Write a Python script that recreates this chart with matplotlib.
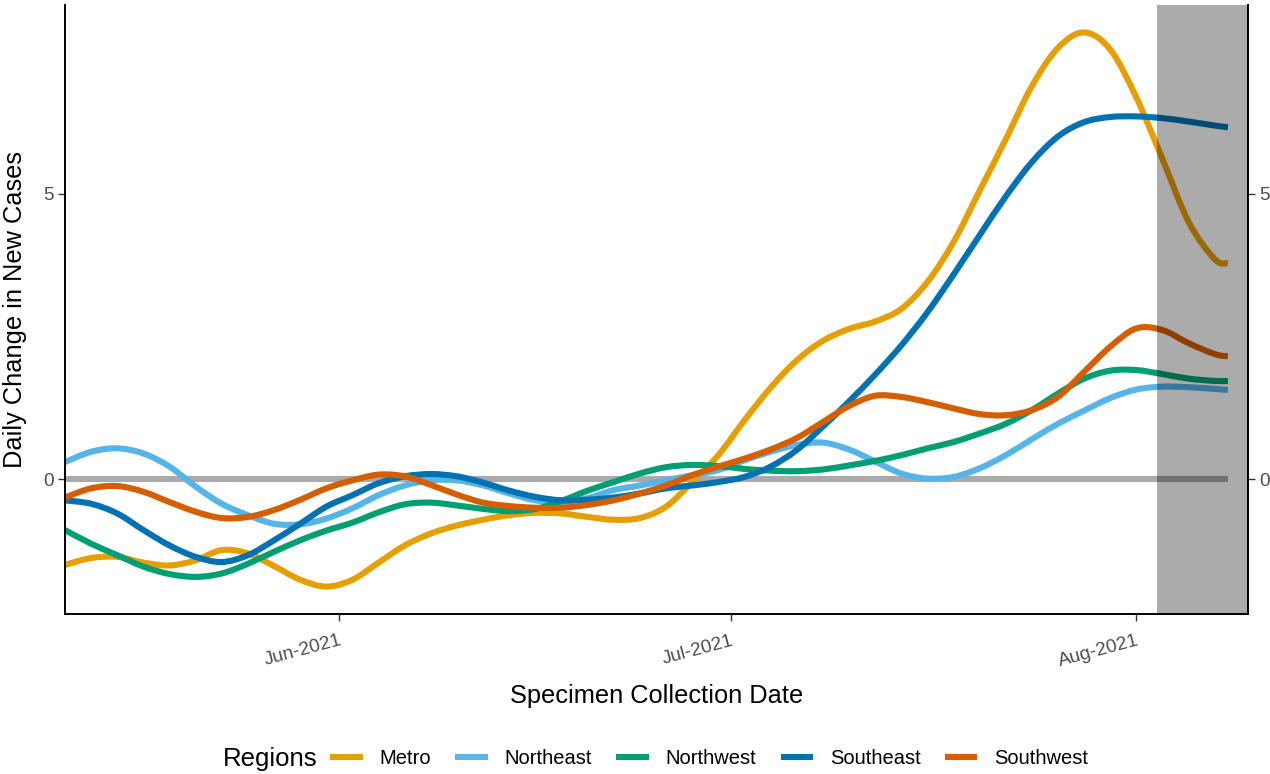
import matplotlib
matplotlib.use("Agg")
import matplotlib.pyplot as plt
import matplotlib.dates as mdates
from matplotlib.lines import Line2D
from matplotlib.path import Path
from matplotlib.patches import PathPatch
import pandas as pd

plt.rcParams["font.family"] = ["Liberation Sans", "DejaVu Sans"]

# sample dates: every 2 days from 11 May, plus the last day (8 Aug)
dates = pd.date_range("2021-05-11", "2021-08-07", freq="2D").append(pd.DatetimeIndex(["2021-08-08"]))

metro = [-1.50, -1.38, -1.36, -1.46, -1.51, -1.42, -1.24, -1.30, -1.52, -1.76,
         -1.88, -1.76, -1.46, -1.16, -0.95, -0.81, -0.71, -0.63, -0.59, -0.60,
         -0.66, -0.71, -0.68, -0.48, -0.05, 0.42, 1.03, 1.60, 2.08, 2.42,
         2.63, 2.76, 2.98, 3.45, 4.15, 5.05, 5.95, 6.88, 7.55, 7.82,
         7.52, 6.68, 5.60, 4.50, 3.85, 3.78]
northeast = [0.30, 0.48, 0.54, 0.45, 0.22, -0.13, -0.43, -0.63, -0.78, -0.79,
             -0.69, -0.51, -0.28, -0.11, -0.02, -0.02, -0.11, -0.25, -0.37, -0.40,
             -0.33, -0.19, -0.11, -0.02, 0.07, 0.16, 0.33, 0.48, 0.60, 0.64,
             0.52, 0.31, 0.10, 0.01, 0.04, 0.19, 0.42, 0.70, 0.97, 1.20,
             1.42, 1.57, 1.62, 1.61, 1.58, 1.56]
northwest = [-0.89, -1.13, -1.33, -1.53, -1.66, -1.71, -1.65, -1.48, -1.27, -1.07,
             -0.90, -0.76, -0.58, -0.44, -0.41, -0.46, -0.52, -0.56, -0.52, -0.38,
             -0.20, -0.05, 0.10, 0.21, 0.25, 0.23, 0.18, 0.15, 0.14, 0.17,
             0.24, 0.32, 0.42, 0.54, 0.65, 0.80, 0.97, 1.21, 1.50, 1.76,
             1.90, 1.91, 1.84, 1.76, 1.72, 1.72]
southeast = [-0.37, -0.43, -0.60, -0.89, -1.16, -1.36, -1.45, -1.33, -1.07, -0.78,
             -0.48, -0.28, -0.07, 0.05, 0.09, 0.05, -0.06, -0.20, -0.31, -0.37,
             -0.36, -0.32, -0.25, -0.16, -0.11, -0.05, 0.04, 0.22, 0.51, 0.92,
             1.36, 1.83, 2.34, 2.92, 3.58, 4.27, 4.95, 5.55, 6.00, 6.25,
             6.34, 6.35, 6.32, 6.26, 6.19, 6.16]
southwest = [-0.32, -0.16, -0.12, -0.22, -0.40, -0.57, -0.68, -0.66, -0.54, -0.36,
             -0.16, -0.02, 0.08, 0.05, -0.10, -0.27, -0.41, -0.47, -0.50, -0.50,
             -0.45, -0.37, -0.25, -0.11, 0.07, 0.22, 0.36, 0.52, 0.72, 1.00,
             1.28, 1.46, 1.44, 1.35, 1.24, 1.14, 1.12, 1.21, 1.44, 1.88,
             2.32, 2.64, 2.61, 2.38, 2.19, 2.15]

regions = ["Metro", "Northeast", "Northwest", "Southeast", "Southwest"]
series = [metro, northeast, northwest, southeast, southwest]
colors = ["#E69F00", "#56B4E9", "#009E73", "#0072B2", "#D55E00"]

x_start = pd.Timestamp("2021-05-11")
x_end = pd.Timestamp("2021-08-09 13:00")
shade_start = pd.Timestamp("2021-08-02 13:00")
tick_dates = [pd.Timestamp("2021-06-01"), pd.Timestamp("2021-07-01"), pd.Timestamp("2021-08-01")]


def smooth_path(xs, ys):
    # Catmull-Rom through the points, drawn as cubic Bezier segments
    pts = list(zip(xs, ys))
    verts = [pts[0]]
    codes = [Path.MOVETO]
    n = len(pts)
    for i in range(n - 1):
        p0 = pts[max(i - 1, 0)]
        p1 = pts[i]
        p2 = pts[i + 1]
        p3 = pts[min(i + 2, n - 1)]
        c1 = (p1[0] + (p2[0] - p0[0]) / 6, p1[1] + (p2[1] - p0[1]) / 6)
        c2 = (p2[0] - (p3[0] - p1[0]) / 6, p2[1] - (p3[1] - p1[1]) / 6)
        verts += [c1, c2, p2]
        codes += [Path.CURVE4] * 3
    return Path(verts, codes)


fig = plt.figure(figsize=(12.7, 7.74), dpi=100)
ax = fig.add_axes([0.0512, 0.2067, 0.9315, 0.7868])

lw = 4.4
xnum = mdates.date2num(dates)
ax.plot(dates, [0] * len(dates), color="#AAAAAA", lw=lw, solid_capstyle="butt", zorder=1)
for name, vals, col in zip(regions, series, colors):
    patch = PathPatch(smooth_path(xnum, vals), fill=False, edgecolor=col, lw=lw,
                      capstyle="butt", joinstyle="round", zorder=2)
    ax.add_patch(patch)

ax.axvspan(shade_start, x_end, color="black", alpha=0.33, lw=0, zorder=5)

ax.set_xlim(x_start, x_end)
ax.set_ylim(-2.36, 8.30)

ax.set_xticks(tick_dates)
ax.xaxis.set_major_formatter(mdates.DateFormatter("%b-%Y"))
for lab in ax.get_xticklabels():
    lab.set_rotation(15)
    lab.set_ha("right")
    lab.set_rotation_mode("anchor")
ax.set_yticks([0, 5])

ax.tick_params(axis="both", colors="#333333", labelcolor="#4D4D4D",
               labelsize=13.7, length=5, width=1)
ax.tick_params(axis="y", right=True, labelright=True, pad=3)
ax.tick_params(axis="x", pad=8)

for side in ["left", "bottom", "right"]:
    ax.spines[side].set_color("black")
    ax.spines[side].set_linewidth(1.4)
ax.spines["top"].set_visible(False)

ax.set_xlabel("Specimen Collection Date", fontsize=18.3, color="black")
ax.set_ylabel("Daily Change in New Cases", fontsize=18.3, color="black")
ax.xaxis.set_label_coords(0.5, -0.115)
ax.yaxis.set_label_coords(-0.032, 0.5)

handles = [Line2D([0], [0], color=c, lw=lw, solid_capstyle="butt") for c in colors]
fig.text(0.1756, 0.0194, "Regions", fontsize=18.5, va="center", ha="left")
fig.legend(handles, regions, loc="center", bbox_to_anchor=(0.5585, 0.0194),
           ncol=5, frameon=False, fontsize=14.5, handlelength=1.6,
           handletextpad=0.85, columnspacing=1.2, borderaxespad=0)

fig.savefig("out.png", dpi=100)
